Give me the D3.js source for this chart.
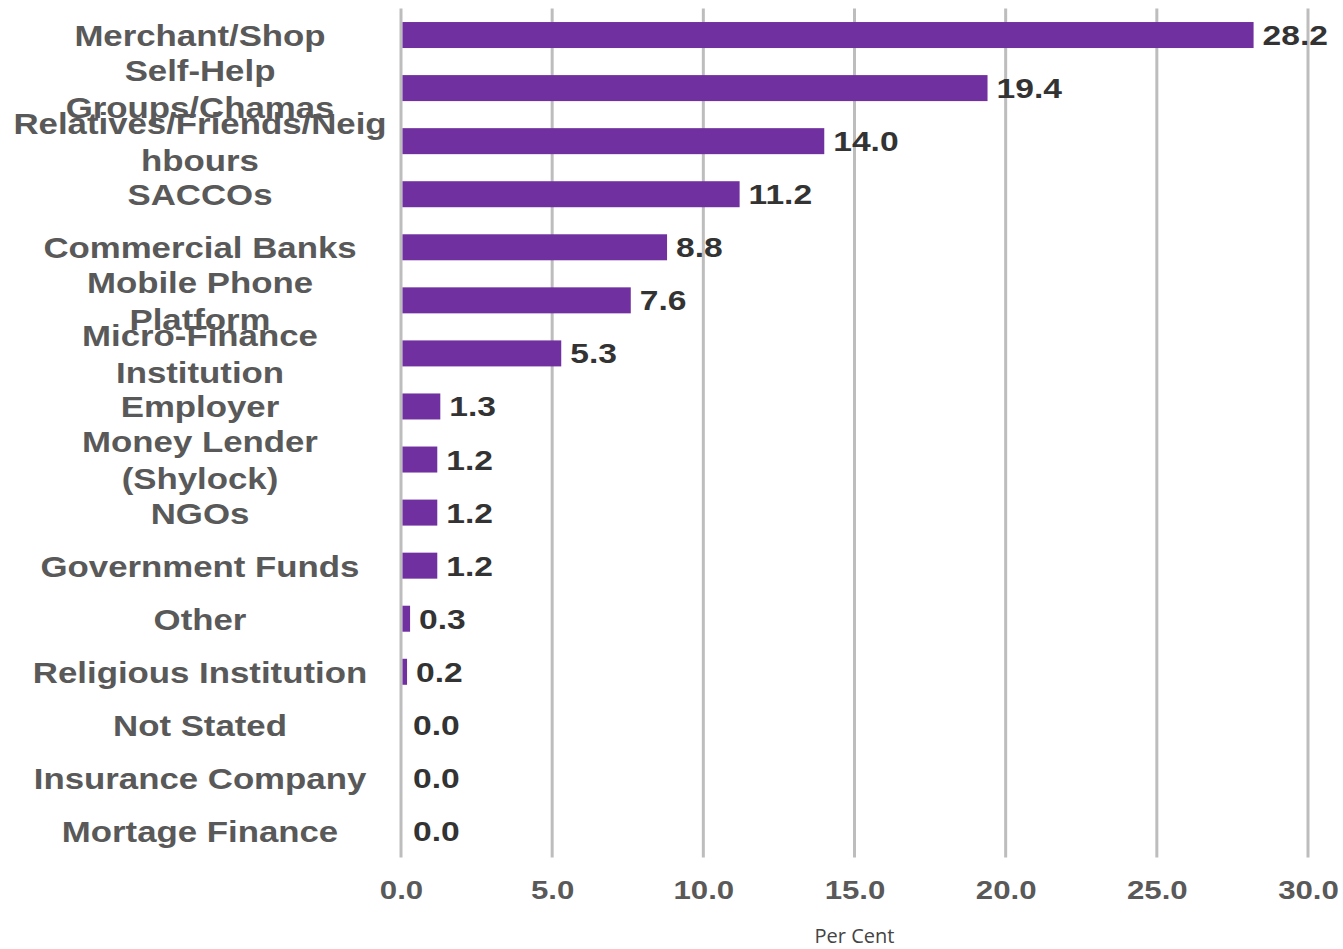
<!DOCTYPE html>
<html>
<head>
<meta charset="utf-8">
<script src="https://cdn.jsdelivr.net/npm/d3@7"></script>
<style>
  html, body { margin: 0; padding: 0; background: #ffffff; }
  svg { display: block; }
</style>
</head>
<body>
<svg id="chart" width="1343" height="949"></svg>
<script>
// Sources of credit, share of borrowers (per cent)
const categories = [
  "Merchant/Shop", "Self-Help Groups/Chamas", "Relatives/Friends/Neighbours", "SACCOs",
  "Commercial Banks", "Mobile Phone Platform", "Micro-Finance Institution", "Employer",
  "Money Lender (Shylock)", "NGOs", "Government Funds", "Other",
  "Religious Institution", "Not Stated", "Insurance Company", "Mortage Finance"
];
const values = [28.2, 19.4, 14.0, 11.2, 8.8, 7.6, 5.3, 1.3, 1.2, 1.2, 1.2, 0.3, 0.2, 0.0, 0.0, 0.0];
// Category labels as they wrap on the axis
const labelLines = [
  ["Merchant/Shop"], ["Self-Help", "Groups/Chamas"], ["Relatives/Friends/Neig", "hbours"], ["SACCOs"],
  ["Commercial Banks"], ["Mobile Phone", "Platform"], ["Micro-Finance", "Institution"], ["Employer"],
  ["Money Lender", "(Shylock)"], ["NGOs"], ["Government Funds"], ["Other"],
  ["Religious Institution"], ["Not Stated"], ["Insurance Company"], ["Mortage Finance"]
];
const xTicks = [0, 5, 10, 15, 20, 25, 30];
const xTitle = "Per Cent";

const svg = d3.select("#chart");
const stretch = 1.2;            // wide glyph rendering
const plot = { left: 401, right: 1308, top: 8.5, bottom: 857.5 };
const boldFont = "'Liberation Sans', Arial, sans-serif";

const x = d3.scaleLinear().domain([0, 30]).range([plot.left, plot.right]);
const y = d3.scaleBand().domain(categories).range([plot.top, plot.bottom])
  .paddingInner(0.51).paddingOuter(0.255);

// vertical grid lines
svg.append("g")
  .selectAll("line")
  .data(xTicks)
  .join("line")
  .attr("x1", d => x(d)).attr("x2", d => x(d))
  .attr("y1", plot.top).attr("y2", plot.bottom)
  .attr("stroke", "#bdbdbd")
  .attr("stroke-width", 3);

// bars
svg.append("g")
  .selectAll("rect")
  .data(values)
  .join("rect")
  .attr("x", x(0) + 1.5)
  .attr("y", (d, i) => y(categories[i]))
  .attr("width", d => Math.max(0, x(d) - x(0) - 1.5))
  .attr("height", y.bandwidth())
  .attr("fill", "#7030a0");

// value labels
svg.append("g")
  .selectAll("text")
  .data(values)
  .join("text")
  .attr("transform", (d, i) =>
    `translate(${Math.max(x(d), x(0) + 3) + 9},${y(categories[i]) + y.bandwidth() / 2 + 10}) scale(${stretch},1)`)
  .attr("font-family", boldFont)
  .attr("font-weight", "bold")
  .attr("font-size", 28)
  .attr("fill", "#333333")
  .text(d => d3.format(".1f")(d));

// category labels, centred to the left of the plot
const labelX = 200;
const lineGap = 37;
const cat = svg.append("g")
  .selectAll("g")
  .data(labelLines)
  .join("g")
  .attr("transform", (d, i) =>
    `translate(${labelX},${y(categories[i]) + y.bandwidth() / 2}) scale(${stretch},1)`);
cat.selectAll("text")
  .data(d => d.map((t, k) => ({ t, k, n: d.length })))
  .join("text")
  .attr("x", 0)
  .attr("y", d => (d.k - (d.n - 1) / 2) * lineGap + 11)
  .attr("text-anchor", "middle")
  .attr("font-family", boldFont)
  .attr("font-weight", "bold")
  .attr("font-size", 29)
  .attr("fill", "#595959")
  .text(d => d.t);

// x axis tick labels
const xAxis = svg.append("g")
  .attr("transform", `translate(0,${plot.bottom})`)
  .call(d3.axisBottom(x).tickValues(xTicks).tickSize(0).tickPadding(0).tickFormat(d3.format(".1f")));
xAxis.select(".domain").remove();
xAxis.selectAll("text")
  .attr("y", 0)
  .attr("dy", 0)
  .attr("transform", `translate(0,41) scale(${stretch},1)`)
  .attr("font-family", boldFont)
  .attr("font-weight", "bold")
  .attr("font-size", 26)
  .attr("fill", "#595959");

// axis title
svg.append("text")
  .attr("x", (plot.left + plot.right) / 2)
  .attr("y", 943)
  .attr("text-anchor", "middle")
  .attr("font-family", "'Open Sans', sans-serif")
  .attr("font-size", 20)
  .attr("fill", "#444444")
  .text(xTitle);
</script>
</body>
</html>
